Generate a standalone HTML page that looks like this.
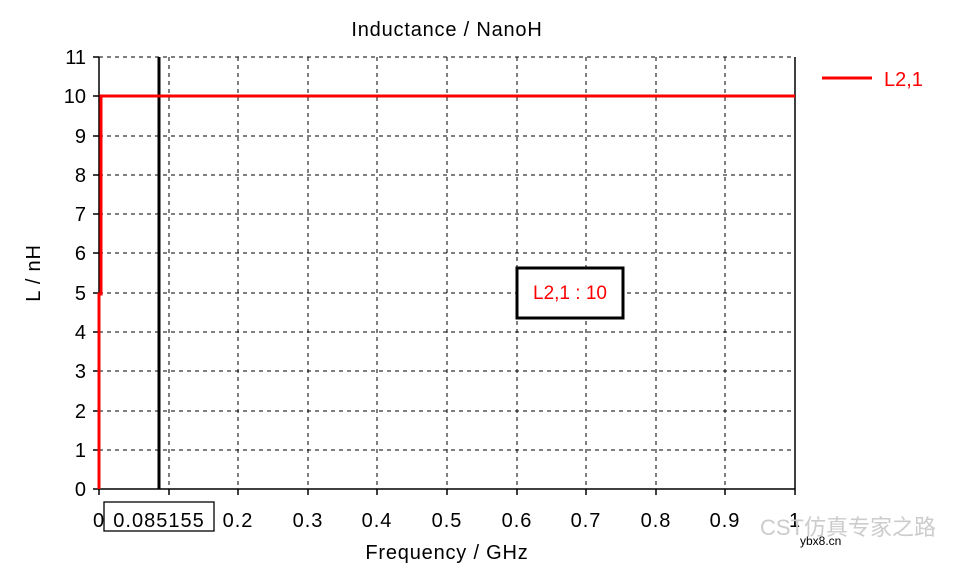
<!DOCTYPE html>
<html><head><style>body{margin:0;background:#fff}svg{display:block;font-family:"Liberation Sans","Noto Sans CJK SC",sans-serif}</style></head>
<body>
<svg width="975" height="569" xmlns="http://www.w3.org/2000/svg">
<text x="447" y="36" font-size="20" letter-spacing="0.8" text-anchor="middle">Inductance / NanoH</text>
<g stroke="#000" stroke-width="1" stroke-dasharray="4,4">
<line x1="169" y1="57" x2="169" y2="489"/><line x1="238" y1="57" x2="238" y2="489"/><line x1="308" y1="57" x2="308" y2="489"/><line x1="377" y1="57" x2="377" y2="489"/><line x1="447" y1="57" x2="447" y2="489"/><line x1="517" y1="57" x2="517" y2="489"/><line x1="586" y1="57" x2="586" y2="489"/><line x1="656" y1="57" x2="656" y2="489"/><line x1="725" y1="57" x2="725" y2="489"/>
<line x1="99" y1="57" x2="795" y2="57"/><line x1="99" y1="96" x2="795" y2="96"/><line x1="99" y1="136" x2="795" y2="136"/><line x1="99" y1="175" x2="795" y2="175"/><line x1="99" y1="214" x2="795" y2="214"/><line x1="99" y1="253" x2="795" y2="253"/><line x1="99" y1="293" x2="795" y2="293"/><line x1="99" y1="332" x2="795" y2="332"/><line x1="99" y1="371" x2="795" y2="371"/><line x1="99" y1="411" x2="795" y2="411"/><line x1="99" y1="450" x2="795" y2="450"/>
</g>
<g stroke="#000" stroke-width="1.5">
<line x1="99" y1="57" x2="99" y2="489"/><line x1="99" y1="489" x2="795" y2="489"/><line x1="795" y1="57" x2="795" y2="495"/>
<line x1="99" y1="489" x2="99" y2="495"/><line x1="169" y1="489" x2="169" y2="495"/><line x1="238" y1="489" x2="238" y2="495"/><line x1="308" y1="489" x2="308" y2="495"/><line x1="377" y1="489" x2="377" y2="495"/><line x1="447" y1="489" x2="447" y2="495"/><line x1="517" y1="489" x2="517" y2="495"/><line x1="586" y1="489" x2="586" y2="495"/><line x1="656" y1="489" x2="656" y2="495"/><line x1="725" y1="489" x2="725" y2="495"/>
<line x1="93" y1="57" x2="99" y2="57"/><line x1="93" y1="96" x2="99" y2="96"/><line x1="93" y1="136" x2="99" y2="136"/><line x1="93" y1="175" x2="99" y2="175"/><line x1="93" y1="214" x2="99" y2="214"/><line x1="93" y1="253" x2="99" y2="253"/><line x1="93" y1="293" x2="99" y2="293"/><line x1="93" y1="332" x2="99" y2="332"/><line x1="93" y1="371" x2="99" y2="371"/><line x1="93" y1="411" x2="99" y2="411"/><line x1="93" y1="450" x2="99" y2="450"/><line x1="93" y1="489" x2="99" y2="489"/>
</g>
<g font-size="20" text-anchor="end">
<text x="86" y="64">11</text><text x="86" y="103">10</text><text x="86" y="143">9</text><text x="86" y="182">8</text><text x="86" y="221">7</text><text x="86" y="260">6</text><text x="86" y="300">5</text><text x="86" y="339">4</text><text x="86" y="378">3</text><text x="86" y="418">2</text><text x="86" y="457">1</text><text x="86" y="496">0</text>
</g>
<g font-size="20" letter-spacing="1" text-anchor="middle">
<text x="99" y="527">0</text><text x="238" y="527">0.2</text><text x="308" y="527">0.3</text><text x="377" y="527">0.4</text><text x="447" y="527">0.5</text><text x="517" y="527">0.6</text><text x="586" y="527">0.7</text><text x="656" y="527">0.8</text><text x="725" y="527">0.9</text><text x="795" y="527">1</text>
</g>
<rect x="104" y="502" width="110" height="29" fill="#fff" stroke="#000" stroke-width="1.3"/>
<text x="159" y="527" font-size="20" letter-spacing="1" text-anchor="middle">0.085155</text>
<text x="447" y="559" font-size="20" letter-spacing="0.8" text-anchor="middle">Frequency / GHz</text>
<text transform="translate(40,273) rotate(-90)" font-size="20" letter-spacing="0.8" text-anchor="middle">L / nH</text>
<line x1="159" y1="57" x2="159" y2="489" stroke="#000" stroke-width="3"/>
<polyline points="99,489 99,294 101,294 101,96 795,96" fill="none" stroke="#f00" stroke-width="3"/>
<rect x="517" y="268" width="106" height="50" fill="#fff" stroke="#000" stroke-width="3"/>
<text x="570" y="299" font-size="19" fill="#f00" text-anchor="middle">L2,1 : 10</text>
<line x1="822" y1="78" x2="872" y2="78" stroke="#f00" stroke-width="3"/>
<text x="884" y="86" font-size="20" fill="#f00">L2,1</text>
<text x="760" y="535" font-size="22" fill="#ccc">CST仿真专家之路</text>
<text x="800" y="545" font-size="12" fill="#000">ybx8.cn</text>
</svg>
</body></html>
